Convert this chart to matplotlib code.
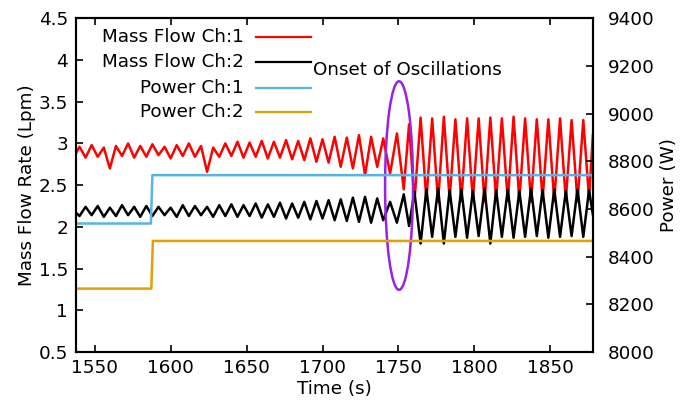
"""
Mass flow (left axis) and heater power (right axis) vs time,
with the onset of flow oscillations circled.

Saves to ./out.png
"""
import matplotlib
matplotlib.use("Agg")
import matplotlib.pyplot as plt
from matplotlib.patches import Ellipse

# ---- values ----
FLOW_T = [1537, 1540, 1544, 1548, 1552, 1556, 1560, 1564, 1568, 1572,
          1576, 1580, 1584, 1588, 1592, 1596, 1600, 1604, 1608, 1612,
          1616, 1620, 1624, 1628, 1632, 1636, 1640, 1644, 1648, 1652,
          1656, 1660, 1664, 1668, 1672, 1676, 1680, 1684, 1688, 1692,
          1696, 1700, 1704, 1708, 1712, 1716, 1720, 1724, 1728, 1732,
          1736, 1740, 1744.5, 1749, 1753.5, 1757, 1760.5, 1764.6, 1768.4, 1772.2,
          1776.1, 1779.9, 1783.7, 1787.5, 1791.4, 1795.2, 1799.0, 1802.8, 1806.7, 1810.5,
          1814.3, 1818.1, 1822.0, 1825.8, 1829.6, 1833.4, 1837.3, 1841.1, 1844.9, 1848.7,
          1852.6, 1856.4, 1860.2, 1864.0, 1867.9, 1871.7, 1875.5, 1878]

FLOW_CH1 = [2.86, 2.96, 2.83, 2.98, 2.84, 2.95, 2.70, 2.97, 2.85, 3.00,
            2.83, 2.97, 2.84, 2.99, 2.86, 2.96, 2.82, 2.98, 2.85, 3.00,
            2.84, 2.97, 2.66, 2.95, 2.84, 3.00, 2.85, 3.02, 2.83, 3.01,
            2.84, 3.03, 2.82, 3.02, 2.83, 3.04, 2.81, 3.03, 2.80, 3.06,
            2.78, 3.05, 2.77, 3.08, 2.72, 3.07, 2.70, 3.10, 2.62, 3.08,
            2.72, 3.06, 2.64, 3.12, 2.45, 3.23, 2.30, 3.31, 2.32, 3.30,
            2.30, 3.32, 2.33, 3.29, 2.31, 3.30, 2.32, 3.30, 2.30, 3.31,
            2.33, 3.30, 2.31, 3.32, 2.32, 3.30, 2.30, 3.29, 2.33, 3.29,
            2.31, 3.30, 2.32, 3.28, 2.30, 3.28, 2.34, 3.10]

FLOW_CH2 = [2.18, 2.13, 2.24, 2.14, 2.25, 2.12, 2.23, 2.13, 2.26, 2.14,
            2.24, 2.12, 2.25, 2.13, 2.24, 2.14, 2.23, 2.12, 2.26, 2.13,
            2.25, 2.14, 2.24, 2.12, 2.26, 2.13, 2.27, 2.12, 2.26, 2.13,
            2.28, 2.11, 2.27, 2.12, 2.29, 2.10, 2.28, 2.11, 2.30, 2.09,
            2.31, 2.10, 2.32, 2.08, 2.33, 2.07, 2.35, 2.06, 2.36, 2.05,
            2.34, 2.08, 2.30, 2.05, 2.39, 2.01, 2.42, 1.80, 2.45, 1.88,
            2.46, 1.80, 2.44, 1.88, 2.45, 1.87, 2.43, 1.89, 2.46, 1.80,
            2.44, 1.88, 2.45, 1.87, 2.43, 1.88, 2.46, 1.89, 2.44, 1.87,
            2.45, 1.88, 2.43, 1.89, 2.45, 1.88, 2.44, 2.15]

POWER1_T = [1537, 1587.0, 1588.0, 1878]
POWER_CH1 = [8539, 8539, 8742, 8742]
POWER2_T = [1537, 1587.3, 1588.3, 1878]
POWER_CH2 = [8266, 8266, 8466, 8466]

LABELS = ["Mass Flow Ch:1", "Mass Flow Ch:2", "Power Ch:1", "Power Ch:2"]
COLORS = ["#FF0000", "#000000", "#56B4E9", "#E69F00"]
ONSET_LABEL = "Onset of Oscillations"

X_TICKS = [1550, 1600, 1650, 1700, 1750, 1800, 1850]
Y_TICKS = [0.5, 1, 1.5, 2, 2.5, 3, 3.5, 4, 4.5]
Y2_TICKS = [8000, 8200, 8400, 8600, 8800, 9000, 9200, 9400]

W, H = 691, 407


def fpx(x, y):
    """pixel position in the picture -> figure fraction"""
    return x / W, 1 - y / H


def main():
    plt.rcParams.update({"font.size": 13.2, "font.family": "DejaVu Sans"})
    fig = plt.figure(figsize=(W / 100, H / 100), dpi=100)
    ax = fig.add_axes([75.7 / W, 1 - 352 / H, (593.3 - 75.7) / W, (352 - 18.3) / H])
    ax2 = ax.twinx()

    ax.plot(FLOW_T, FLOW_CH1, color=COLORS[0], lw=1.8)
    ax.plot(FLOW_T, FLOW_CH2, color=COLORS[1], lw=1.8)
    ax2.plot(POWER1_T, POWER_CH1, color=COLORS[2], lw=1.8)
    ax2.plot(POWER2_T, POWER_CH2, color=COLORS[3], lw=1.8)

    # onset marker, drawn above every curve
    ax2.add_patch(Ellipse((1750.4, 2.495), 18.4, 2.5, transform=ax.transData,
                          fill=False, edgecolor="#9A22E0", lw=1.8))

    ax.set_xlim(1537.5, 1878.3)
    ax.set_ylim(0.5, 4.5)
    ax2.set_ylim(8000, 9400)
    ax.set_xticks(X_TICKS)
    ax.set_yticks(Y_TICKS)
    ax.set_yticklabels([f"{v:g}" for v in Y_TICKS])
    ax2.set_yticks(Y2_TICKS)

    ax.tick_params(axis="x", direction="in", top=True, length=5, width=1.2, pad=5)
    ax.tick_params(axis="y", direction="in", right=False, length=5, width=1.2, pad=5.5)
    ax2.tick_params(axis="y", direction="in", left=False, length=5, width=1.2, pad=10.5)
    for a in (ax, ax2):
        for s in a.spines.values():
            s.set_linewidth(1.5)

    ax.set_xlabel("Time (s)", labelpad=2)
    ax.set_ylabel("Mass Flow Rate (Lpm)", labelpad=2)
    ax2.set_ylabel("Power (W)", labelpad=4)

    # gnuplot-style key: right-aligned text, sample line after it
    rows_y = [36.7, 62.3, 88.3, 112.3]
    for lab, col, y in zip(LABELS, COLORS, rows_y):
        fig.text(*fpx(244, y), lab, ha="right", va="center")
        x0, yy = fpx(255.7, y)
        x1, _ = fpx(311, y)
        fig.add_artist(plt.Line2D([x0, x1], [yy, yy], color=col, lw=1.6))

    fig.text(*fpx(313, 70), ONSET_LABEL, ha="left", va="center")

    fig.savefig("out.png", dpi=100)
    plt.close(fig)


if __name__ == "__main__":
    main()
